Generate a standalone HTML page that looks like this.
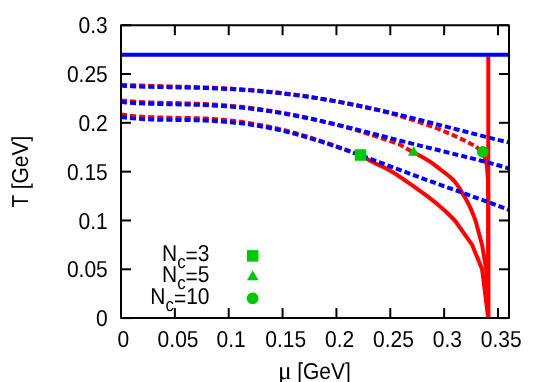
<!DOCTYPE html>
<html><head><meta charset="utf-8"><title>plot</title>
<style>
html,body{margin:0;padding:0;background:#fff;}
body{width:545px;height:382px;overflow:hidden;}
svg{display:block;will-change:transform;}
text{text-rendering:geometricPrecision;font-family:"Liberation Sans",sans-serif;font-size:21px;fill:#000;}
.sym{font-family:"Liberation Serif",serif;}
</style></head><body>
<svg width="545" height="382" viewBox="0 0 545 382">
<rect x="0" y="0" width="545" height="382" fill="#fff"/>
<polyline points="121.00,84.83 127.00,85.12 133.00,85.37 139.00,85.58 145.00,85.78 151.00,85.95 157.00,86.11 163.00,86.25 169.00,86.40 175.00,86.54 181.00,86.69 187.00,86.86 193.00,87.03 199.00,87.22 205.00,87.43 211.00,87.67 217.00,87.93 223.00,88.23 229.00,88.55 235.00,88.91 241.00,89.31 247.00,89.75 253.00,90.22 259.00,90.74 265.00,91.30 271.00,91.91 277.00,92.55 283.00,93.25 289.00,93.99 295.00,94.77 301.00,95.59 307.00,96.46 313.00,97.38 319.00,98.34 325.00,99.35 331.00,100.40 337.00,101.50 343.00,102.64 349.00,103.82 355.00,105.04 361.00,106.30 367.00,107.60 373.00,108.93 379.00,110.29 385.00,111.69 391.00,113.40 397.00,115.15 403.00,116.96 409.00,118.83 415.00,120.72 427.50,124.90 438.00,128.70 449.80,133.60 458.00,137.40 466.30,141.40 474.50,145.80 482.80,151.80" fill="none" stroke="#ff0000" stroke-width="4" stroke-dasharray="6.05 3.05"/>
<polyline points="121.00,100.49 127.00,101.08 133.00,101.55 139.00,101.93 145.00,102.23 151.00,102.46 157.00,102.65 163.00,102.82 169.00,102.96 175.00,103.10 181.00,103.25 187.00,103.41 193.00,103.60 199.00,103.82 205.00,104.08 211.00,104.40 217.00,104.77 223.00,105.19 229.00,105.68 235.00,106.22 241.00,106.84 247.00,107.51 253.00,108.25 259.00,109.06 265.00,109.94 271.00,110.87 277.00,111.88 283.00,112.94 289.00,114.06 295.00,115.24 301.00,116.47 307.00,117.74 313.00,119.07 319.00,120.44 325.00,121.84 331.00,123.28 337.00,124.75 343.00,126.33 349.00,128.00 355.00,129.69 361.00,131.60 367.00,133.51 373.00,135.44 379.00,137.36 385.00,139.29 391.00,141.42 397.00,143.54 400.00,144.60 413.50,152.50" fill="none" stroke="#ff0000" stroke-width="4" stroke-dasharray="6.05 3.05"/>
<polyline points="121.00,114.43 127.00,115.29 133.00,115.96 139.00,116.48 145.00,116.88 151.00,117.17 157.00,117.39 163.00,117.54 169.00,117.67 175.00,117.78 181.00,117.88 187.00,118.01 193.00,118.16 199.00,118.36 205.00,118.61 211.00,118.95 217.00,119.36 223.00,119.85 229.00,120.42 235.00,121.09 241.00,121.84 247.00,122.70 253.00,123.65 259.00,124.70 265.00,125.85 271.00,127.09 277.00,128.43 283.00,129.87 289.00,131.40 295.00,133.03 301.00,134.75 307.00,136.54 313.00,138.41 319.00,140.35 325.00,142.35 331.00,144.41 337.00,146.53 343.00,148.69 349.00,150.90 355.00,153.15 360.50,155.00" fill="none" stroke="#ff0000" stroke-width="4" stroke-dasharray="6.05 3.05"/>
<polyline points="360.50,155.00 364.00,157.18 367.49,159.27 370.99,161.23 374.49,163.01 377.98,164.62 381.48,166.19 384.97,167.83 388.47,169.66 391.97,171.71 395.46,173.93 398.96,176.25 402.46,178.62 405.95,180.98 409.45,183.37 412.94,185.81 416.44,188.29 419.94,190.82 423.43,193.38 426.93,195.95 430.43,198.58 433.92,201.30 437.42,204.15 440.91,207.15 444.41,210.30 447.91,213.58 451.40,216.98 454.90,220.50 472.20,244.90 482.10,269.30 488.20,318.10" fill="none" stroke="#ff0000" stroke-width="4" stroke-linejoin="round"/>
<polyline points="413.50,152.50 415.80,153.55 418.09,154.69 420.39,155.90 422.69,157.19 424.98,158.53 427.28,159.93 429.57,161.38 431.87,162.92 434.17,164.58 436.46,166.33 438.76,168.13 441.06,169.95 443.35,171.74 445.65,173.47 447.94,175.25 450.24,177.14 452.54,179.25 454.83,181.65 457.13,184.62 459.43,188.14 461.72,191.97 464.02,195.87 466.31,199.85 468.61,204.22 470.91,209.13 473.20,214.57 475.50,220.50 482.10,244.90 486.20,269.30 487.60,293.70 488.20,318.10" fill="none" stroke="#ff0000" stroke-width="4" stroke-linejoin="round"/>
<polyline points="482.80,151.80 485.30,159.50 487.00,166.00 488.00,180.00 488.20,200.00 488.20,318.10" fill="none" stroke="#ff0000" stroke-width="4" stroke-linejoin="round"/>
<line x1="488.3" y1="54.8" x2="488.3" y2="318.1" stroke="#ff0000" stroke-width="4"/>
<line x1="121" y1="54.8" x2="509" y2="54.8" stroke="#0000ff" stroke-width="4"/>
<polyline points="121.00,85.83 127.00,86.09 133.00,86.31 139.00,86.50 145.00,86.66 151.00,86.81 157.00,86.93 163.00,87.05 169.00,87.17 175.00,87.29 181.00,87.41 187.00,87.54 193.00,87.69 199.00,87.85 205.00,88.03 211.00,88.24 217.00,88.47 223.00,88.74 229.00,89.04 235.00,89.37 241.00,89.74 247.00,90.14 253.00,90.59 259.00,91.08 265.00,91.61 271.00,92.18 277.00,92.80 283.00,93.47 289.00,94.18 295.00,94.94 301.00,95.74 307.00,96.59 313.00,97.48 319.00,98.42 325.00,99.41 331.00,100.44 337.00,101.51 343.00,102.62 349.00,103.78 355.00,104.97 361.00,106.21 367.00,107.48 373.00,108.78 379.00,110.12 385.00,111.49 391.00,112.88 397.00,114.31 403.00,115.76 409.00,117.23 415.00,118.72 421.00,120.22 427.00,121.75 433.00,123.28 439.00,124.82 445.00,126.37 451.00,127.92 457.00,129.48 463.00,131.03 469.00,132.57 475.00,134.10 481.00,135.62 487.00,137.13 493.00,138.62 499.00,140.08 505.00,141.52 509.00,142.47" fill="none" stroke="#0000ff" stroke-width="4" stroke-dasharray="6.05 3.05"/>
<polyline points="121.00,101.99 127.00,102.54 133.00,102.98 139.00,103.32 145.00,103.58 151.00,103.78 157.00,103.94 163.00,104.07 169.00,104.17 175.00,104.28 181.00,104.39 187.00,104.52 193.00,104.67 199.00,104.85 205.00,105.08 211.00,105.35 217.00,105.68 223.00,106.06 229.00,106.50 235.00,107.00 241.00,107.57 247.00,108.20 253.00,108.90 259.00,109.67 265.00,110.50 271.00,111.39 277.00,112.35 283.00,113.37 289.00,114.44 295.00,115.57 301.00,116.76 307.00,117.99 313.00,119.27 319.00,120.60 325.00,121.96 331.00,123.35 337.00,124.78 343.00,126.23 349.00,127.70 355.00,129.19 361.00,130.70 367.00,132.21 373.00,133.74 379.00,135.26 385.00,136.79 391.00,138.32 397.00,139.84 403.00,141.36 409.00,142.87 415.00,144.37 421.00,145.87 427.00,147.35 433.00,148.83 439.00,150.30 445.00,151.76 451.00,153.23 457.00,154.70 463.00,156.17 469.00,157.66 475.00,159.17 481.00,160.70 487.00,162.27 493.00,163.88 499.00,165.54 505.00,167.27 509.00,168.47" fill="none" stroke="#0000ff" stroke-width="4" stroke-dasharray="6.05 3.05"/>
<polyline points="121.00,116.93 127.00,117.74 133.00,118.38 139.00,118.86 145.00,119.21 151.00,119.46 157.00,119.63 163.00,119.74 169.00,119.83 175.00,119.89 181.00,119.96 187.00,120.04 193.00,120.15 199.00,120.31 205.00,120.51 211.00,120.79 217.00,121.13 223.00,121.55 229.00,122.06 235.00,122.66 241.00,123.35 247.00,124.14 253.00,125.02 259.00,126.00 265.00,127.09 271.00,128.27 277.00,129.54 283.00,130.91 289.00,132.38 295.00,133.93 301.00,135.56 307.00,137.28 313.00,139.06 319.00,140.92 325.00,142.85 331.00,144.83 337.00,146.87 343.00,148.95 349.00,151.07 355.00,153.23 361.00,155.42 367.00,157.63 373.00,159.87 379.00,162.11 385.00,164.36 391.00,166.62 397.00,168.88 403.00,171.13 409.00,173.37 415.00,175.60 421.00,177.83 427.00,180.03 433.00,182.22 439.00,184.40 445.00,186.56 451.00,188.72 457.00,190.86 463.00,193.00 469.00,195.14 475.00,197.29 481.00,199.45 487.00,201.63 493.00,203.85 499.00,206.11 505.00,208.43 509.00,210.01" fill="none" stroke="#0000ff" stroke-width="4" stroke-dasharray="6.05 3.05"/>
<g stroke="#000" stroke-width="2" fill="none" stroke-linejoin="round">
<rect x="121.00" y="25.20" width="388.00" height="292.90"/>
<line x1="121.00" y1="318.10" x2="121.00" y2="308.10"/><line x1="121.00" y1="25.20" x2="121.00" y2="35.20"/>
<line x1="174.86" y1="318.10" x2="174.86" y2="308.10"/><line x1="174.86" y1="25.20" x2="174.86" y2="35.20"/>
<line x1="228.71" y1="318.10" x2="228.71" y2="308.10"/><line x1="228.71" y1="25.20" x2="228.71" y2="35.20"/>
<line x1="282.57" y1="318.10" x2="282.57" y2="308.10"/><line x1="282.57" y1="25.20" x2="282.57" y2="35.20"/>
<line x1="336.43" y1="318.10" x2="336.43" y2="308.10"/><line x1="336.43" y1="25.20" x2="336.43" y2="35.20"/>
<line x1="390.29" y1="318.10" x2="390.29" y2="308.10"/><line x1="390.29" y1="25.20" x2="390.29" y2="35.20"/>
<line x1="444.14" y1="318.10" x2="444.14" y2="308.10"/><line x1="444.14" y1="25.20" x2="444.14" y2="35.20"/>
<line x1="498.00" y1="318.10" x2="498.00" y2="308.10"/><line x1="498.00" y1="25.20" x2="498.00" y2="35.20"/>
<line x1="121.00" y1="318.10" x2="131.00" y2="318.10"/><line x1="509.00" y1="318.10" x2="499.00" y2="318.10"/>
<line x1="121.00" y1="269.28" x2="131.00" y2="269.28"/><line x1="509.00" y1="269.28" x2="499.00" y2="269.28"/>
<line x1="121.00" y1="220.47" x2="131.00" y2="220.47"/><line x1="509.00" y1="220.47" x2="499.00" y2="220.47"/>
<line x1="121.00" y1="171.65" x2="131.00" y2="171.65"/><line x1="509.00" y1="171.65" x2="499.00" y2="171.65"/>
<line x1="121.00" y1="122.83" x2="131.00" y2="122.83"/><line x1="509.00" y1="122.83" x2="499.00" y2="122.83"/>
<line x1="121.00" y1="74.02" x2="131.00" y2="74.02"/><line x1="509.00" y1="74.02" x2="499.00" y2="74.02"/>
<line x1="121.00" y1="25.20" x2="131.00" y2="25.20"/><line x1="509.00" y1="25.20" x2="499.00" y2="25.20"/>
</g>
<rect x="354.75" y="149.25" width="11.5" height="11.5" fill="#00c800"/>
<polygon points="413.6,146.3 407.9,155.7 419.3,155.7" fill="#00c800"/>
<circle cx="482.8" cy="151.8" r="5.9" fill="#00c800"/>
<rect x="246.95" y="250.15" width="11.5" height="11.5" fill="#00c800"/>
<polygon points="252.7,270.4 246.9,280.2 258.5,280.2" fill="#00c800"/>
<circle cx="252.6" cy="298.3" r="5.9" fill="#00c800"/>
<text transform="translate(123.40,347.20) scale(1,1.100)" text-anchor="middle">0</text>
<text transform="translate(178.06,347.20) scale(1,1.100)" text-anchor="middle">0.05</text>
<text transform="translate(231.11,347.20) scale(1,1.100)" text-anchor="middle">0.1</text>
<text transform="translate(285.77,347.20) scale(1,1.100)" text-anchor="middle">0.15</text>
<text transform="translate(339.63,347.20) scale(1,1.100)" text-anchor="middle">0.2</text>
<text transform="translate(393.49,347.20) scale(1,1.100)" text-anchor="middle">0.25</text>
<text transform="translate(447.34,347.20) scale(1,1.100)" text-anchor="middle">0.3</text>
<text transform="translate(501.20,347.20) scale(1,1.100)" text-anchor="middle">0.35</text>
<text transform="translate(107.80,326.30) scale(1,1.100)" text-anchor="end">0</text>
<text transform="translate(107.80,277.48) scale(1,1.100)" text-anchor="end">0.05</text>
<text transform="translate(107.80,228.67) scale(1,1.100)" text-anchor="end">0.1</text>
<text transform="translate(107.80,179.85) scale(1,1.100)" text-anchor="end">0.15</text>
<text transform="translate(107.80,131.03) scale(1,1.100)" text-anchor="end">0.2</text>
<text transform="translate(107.80,82.22) scale(1,1.100)" text-anchor="end">0.25</text>
<text transform="translate(107.80,33.40) scale(1,1.100)" text-anchor="end">0.3</text>
<text transform="translate(209.50,260.50) scale(1,1.100)" text-anchor="end">N<tspan font-size="16.8" dy="7.1">c</tspan><tspan dy="-4.5">=</tspan><tspan dy="-2.6">3</tspan></text>
<text transform="translate(209.50,281.50) scale(1,1.100)" text-anchor="end">N<tspan font-size="16.8" dy="7.1">c</tspan><tspan dy="-4.5">=</tspan><tspan dy="-2.6">5</tspan></text>
<text transform="translate(209.50,303.50) scale(1,1.100)" text-anchor="end">N<tspan font-size="16.8" dy="7.1">c</tspan><tspan dy="-4.5">=</tspan><tspan dy="-2.6">10</tspan></text>
<text transform="translate(278.0,378.5) scale(1.06,1.06)" class="sym" style="font-size:24px">μ</text>
<text transform="translate(297.20,378.50) scale(1,1.100)" text-anchor="start">[GeV]</text>
<text transform="translate(28.3,171.6) rotate(-90) scale(1,1.100)" text-anchor="middle">T [GeV]</text>
</svg>
</body></html>
